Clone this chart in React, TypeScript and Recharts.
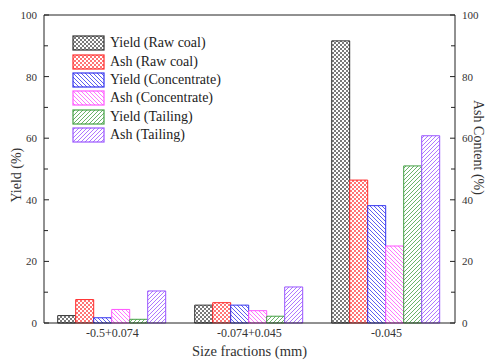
import { Bar, BarChart, ReferenceLine, XAxis, YAxis } from "recharts";

const categories = ["-0.5+0.074", "-0.074+0.045", "-0.045"];
const yieldRaw = [2.4, 5.8, 91.6];
const ashRaw = [7.6, 6.6, 46.4];
const yieldConc = [1.7, 5.8, 38.1];
const ashConc = [4.4, 4.0, 25.0];
const yieldTail = [1.2, 2.2, 51.0];
const ashTail = [10.4, 11.7, 60.8];
const yTicks = [0, 10, 20, 30, 40, 50, 60, 70, 80, 90, 100];

const data = categories.map((name, i) => ({
  name,
  yieldRaw: yieldRaw[i],
  ashRaw: ashRaw[i],
  yieldConc: yieldConc[i],
  ashConc: ashConc[i],
  yieldTail: yieldTail[i],
  ashTail: ashTail[i],
}));

const series = [
  { key: "yieldRaw", name: "Yield (Raw coal)", color: "#333333", pat: "cross", axis: "left" },
  { key: "ashRaw", name: "Ash (Raw coal)", color: "#ff2a2a", pat: "cross", axis: "right" },
  { key: "yieldConc", name: "Yield (Concentrate)", color: "#3333ee", pat: "back", axis: "left" },
  { key: "ashConc", name: "Ash (Concentrate)", color: "#ff55ff", pat: "back", axis: "right" },
  { key: "yieldTail", name: "Yield (Tailing)", color: "#44a044", pat: "fwd", axis: "left" },
  { key: "ashTail", name: "Ash (Tailing)", color: "#9955ff", pat: "fwd", axis: "right" },
];

const font = "'Liberation Serif', 'Times New Roman', serif";

const Patterns = () => (
  <svg width={0} height={0} style={{ position: "absolute" }}>
    <defs>
      {series.map((s) => (
        <pattern key={s.key} id={"p-" + s.key} width={4} height={4} patternUnits="userSpaceOnUse">
          <rect width={4} height={4} fill="#fff" />
          {s.pat === "cross" && (
            <>
              <rect x={0} y={0} width={2} height={2} fill={s.color} opacity={0.65} />
              <rect x={2} y={2} width={2} height={2} fill={s.color} opacity={0.65} />
            </>
          )}
          {s.pat === "back" && (
            <path d="M-1,-1 L5,5 M3,-1 L5,1 M-1,3 L1,5" stroke={s.color} strokeWidth={0.8} />
          )}
          {s.pat === "fwd" && (
            <path d="M-1,5 L5,-1 M-1,1 L1,-1 M3,5 L5,3" stroke={s.color} strokeWidth={0.8} />
          )}
        </pattern>
      ))}
    </defs>
  </svg>
);

const LeftTick = (props: any) => {
  const { x, y, payload } = props;
  const major = payload.value % 20 === 0;
  return (
    <g>
      <line x1={x} x2={x + (major ? 5 : 4)} y1={y} y2={y} stroke="#222" />
      {major && (
        <text x={x - 7} y={y} dy={4} textAnchor="end" fontSize={11} fill="#333" fontFamily={font}>
          {payload.value}
        </text>
      )}
    </g>
  );
};

const RightTick = (props: any) => {
  const { x, y, payload } = props;
  const major = payload.value % 20 === 0;
  return (
    <g>
      <line x1={x - (major ? 5 : 4)} x2={x} y1={y} y2={y} stroke="#222" />
      {major && (
        <text x={x + 7} y={y} dy={4} textAnchor="start" fontSize={11} fill="#333" fontFamily={font}>
          {payload.value}
        </text>
      )}
    </g>
  );
};

// rotated axis titles, placed inside the axis box
const LeftTitle = (props: any) => {
  const { x, y, height } = props.viewBox;
  const cx = x + 17;
  const cy = y + height * 0.52;
  return (
    <text x={cx} y={cy} transform={`rotate(-90, ${cx}, ${cy})`} textAnchor="middle" dominantBaseline="central"
      fontSize={14} fill="#333" fontFamily={font}>
      Yield (%)
    </text>
  );
};

const RightTitle = (props: any) => {
  const { x, y, height } = props.viewBox;
  const cx = x + 23;
  const cy = y + height * 0.43;
  return (
    <text x={cx} y={cy} transform={`rotate(90, ${cx}, ${cy})`} textAnchor="middle" dominantBaseline="central"
      fontSize={14} fill="#333" fontFamily={font}>
      Ash Content (%)
    </text>
  );
};

const LegendBox = () => (
  <div style={{ position: "absolute", left: 72, top: 34, fontFamily: font, fontSize: 14, color: "#222" }}>
    {series.map((s) => (
      <div key={s.key} style={{ display: "flex", alignItems: "center", height: 18.4 }}>
        <svg width={34} height={16} style={{ marginRight: 4 }}>
          <rect x={1} y={1} width={31} height={14} fill={`url(#p-${s.key})`} stroke={s.color} strokeWidth={1.2} />
        </svg>
        <span>{s.name}</span>
      </div>
    ))}
  </div>
);

export default function App() {
  return (
    <div style={{ position: "absolute", left: 0, top: 0, width: 490, height: 360, background: "#fff" }}>
      <Patterns />
      <BarChart
        width={490}
        height={360}
        data={data}
        margin={{ top: 15, right: 0, bottom: 0, left: 0 }}
        barCategoryGap="10%"
        barGap={0}
      >
        <XAxis
          dataKey="name"
          height={37}
          tickLine={false}
          tickSize={0}
          stroke="#222"
          tick={{ fontSize: 12, fill: "#333", fontFamily: font }}
          tickMargin={5}
          label={{ value: "Size fractions (mm)", position: "insideBottom", offset: 4, fontSize: 14.5, fill: "#333", fontFamily: font }}
        />
        <YAxis
          yAxisId="left"
          width={44}
          domain={[0, 100]}
          ticks={yTicks}
          interval={0}
          tickSize={0}
          tickMargin={0}
          tickLine={false}
          stroke="#222"
          tick={<LeftTick />}
          label={{ content: (p: any) => <LeftTitle {...p} /> }}
        />
        <YAxis
          yAxisId="right"
          orientation="right"
          width={35}
          domain={[0, 100]}
          ticks={yTicks}
          interval={0}
          tickSize={0}
          tickMargin={0}
          tickLine={false}
          stroke="#222"
          tick={<RightTick />}
          label={{ content: (p: any) => <RightTitle {...p} /> }}
        />
        <ReferenceLine yAxisId="left" y={100} stroke="#222" />
        {series.map((s) => (
          <Bar
            key={s.key}
            dataKey={s.key}
            name={s.name}
            yAxisId={s.axis}
            fill={`url(#p-${s.key})`}
            stroke={s.color}
            strokeWidth={1}
            isAnimationActive={false}
          />
        ))}
      </BarChart>
      <LegendBox />
    </div>
  );
}
